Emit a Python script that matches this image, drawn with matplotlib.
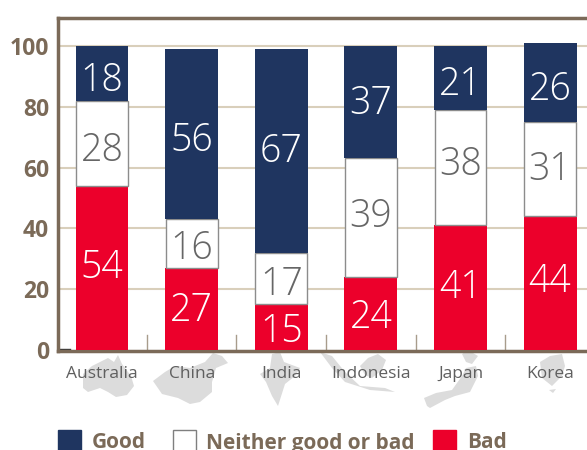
import matplotlib
matplotlib.use("Agg")
from matplotlib import pyplot as plt
from matplotlib.patches import Polygon, Rectangle

plt.rcParams["font.family"] = ["Open Sans", "DejaVu Sans"]

countries = ["Australia", "China", "India", "Indonesia", "Japan", "Korea"]
bad = [54, 27, 15, 24, 41, 44]
neither = [28, 16, 17, 39, 38, 31]
good = [18, 56, 67, 37, 21, 26]
y_ticks = [0, 20, 40, 60, 80, 100]

#the value labels are not quite centred in the original, pixels downward
bad_nudge = [0, 2, 4, 4, 0, -1]
neither_nudge = [7, 5.5, 6.5, -1, -2.5, 1]
good_nudge = [7.5, 7, 1, 2, 7, 7.5]

BROWN = "#7b6a58"
NAVY = "#1f3560"
RED = "#ec002b"
GRID = "#d9cfbb"
MAP_GREY = "#dcdcdc"
W, H = 587, 450

fig = plt.figure(figsize=(W / 100, H / 100), dpi=100)
ax = fig.add_axes([57.5 / W, 1 - 351 / H, (W - 57.5) / W, (351 - 18) / H])
ax.set_xlim(-0.497, 5.412)
ax.set_ylim(-0.3, 109.2)

#Grey map shapes behind the labels, in pixel coords
blobs = [
    [(83, 374), (92, 366), (100, 362), (108, 358), (114, 362), (118, 355), (122, 364), (131, 376), (134, 386), (127, 395), (116, 397), (108, 392), (100, 388), (88, 392), (83, 388)],
    [(153, 381), (165, 372), (175, 366), (190, 368), (205, 362), (213, 353), (222, 356), (228, 363), (216, 368), (212, 382), (212, 392), (200, 402), (190, 404), (178, 398), (162, 394)],
    [(260, 374), (270, 368), (272, 354), (280, 352), (284, 362), (300, 368), (295, 376), (285, 384), (278, 406), (272, 396), (266, 382)],
    [(320, 352), (332, 356), (345, 372), (360, 386), (385, 388), (395, 392), (370, 390), (345, 382), (332, 368)],
    [(360, 366), (368, 358), (378, 354), (386, 360), (382, 370), (372, 378), (365, 375)],
    [(424, 398), (436, 393), (452, 390), (462, 376), (466, 368), (476, 366), (478, 376), (470, 392), (455, 396), (445, 400), (430, 408), (427, 406)],
    [(462, 354), (468, 350), (478, 356), (472, 364), (466, 362)],
    [(540, 362), (550, 356), (562, 354), (565, 366), (562, 376), (552, 386), (542, 378)],
    [(549, 390), (556, 389), (553, 393)],
]
for pts in blobs:
    fig.add_artist(Polygon([(x / W, 1 - y / H) for x, y in pts], closed=True,
                           facecolor=MAP_GREY, edgecolor="none", zorder=0))

ax.patch.set_visible(False)
xs = list(range(len(countries)))
width = 0.59
neither_base = bad
good_base = [b + n for b, n in zip(bad, neither)]

ax.bar(xs, bad, width, color=RED, zorder=3)
ax.bar(xs, neither, width * 0.98, bottom=neither_base, color="white", edgecolor="#8c8c8c", linewidth=1, zorder=3)
ax.bar(xs, good, width, bottom=good_base, color=NAVY, zorder=3)

def valueLabel(i, value, base, nudge, color):
    ax.annotate(str(value), (i, base + value / 2), xytext=(0, -nudge * 0.72), textcoords="offset points",
                color=color, fontsize=27, fontweight="light", ha="center", va="center", zorder=4)

for i in xs:
    valueLabel(i, bad[i], 0, bad_nudge[i], "white")
    valueLabel(i, neither[i], neither_base[i], neither_nudge[i], "#666666")
    valueLabel(i, good[i], good_base[i], good_nudge[i], "white")

for v in y_ticks[1:]:
    ax.axhline(v, color=GRID, linewidth=1.5, zorder=1)

#small separators rising from the baseline
for i in xs[:-1]:
    ax.plot([i + 0.5, i + 0.5], [0, 5], color="#a89c8c", linewidth=1, zorder=2)
ax.plot([-0.497, -0.36], [0.4, 0.4], color="#333333", linewidth=1, zorder=2)

ax.spines["right"].set_visible(False)
for side in ["left", "top", "bottom"]:
    ax.spines[side].set_color(BROWN)
    ax.spines[side].set_linewidth(2.5)

ax.set_yticks(y_ticks)
ax.set_yticklabels([str(v) for v in y_ticks], fontsize=16.5, fontweight="bold", color=BROWN)
ax.set_xticks(xs)
ax.set_xticklabels(countries, fontsize=12.5, color="#5f5f5f")
ax.tick_params(axis="both", length=0)
ax.tick_params(axis="y", pad=6)
ax.tick_params(axis="x", pad=11)

#legend, hand placed so it runs off the bottom like the original
entries = [("Good", 58, NAVY, NAVY, 92), ("Neither good or bad", 173, "white", "#7f7f7f", 206), ("Bad", 433, RED, RED, 467)]
for label, px, fc, ec, tx in entries:
    fig.add_artist(Rectangle((px / W, 1 - 451 / H), 23 / W, 21 / H, facecolor=fc, edgecolor=ec, linewidth=1))
    fig.text(tx / W, 1 - 443 / H, label, fontsize=15, fontweight="bold", color=BROWN, va="center", ha="left")

fig.savefig("out.png", dpi=100)
